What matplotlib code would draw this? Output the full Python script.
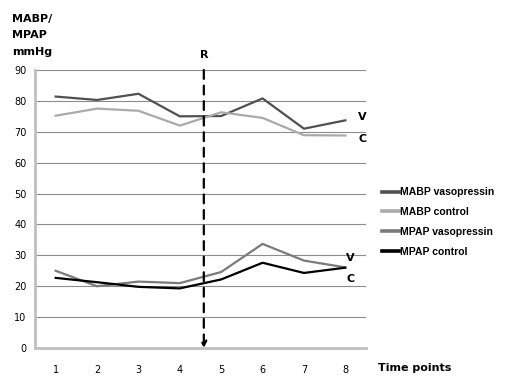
import numpy as np
import matplotlib
matplotlib.use('Agg')
import matplotlib.pyplot as plt

# data
time_points = [1, 2, 3, 4, 5, 6, 7, 8]
mabp_vaso = [81.4, 80.3, 82.3, 75.0, 75.1, 80.8, 71.0, 73.7]
mabp_ctrl = [75.2, 77.5, 76.8, 72.0, 76.3, 74.5, 68.9, 68.8]
mpap_vaso = [25.0, 20.0, 21.5, 21.0, 24.6, 33.7, 28.3, 26.1]
mpap_ctrl = [22.7, 21.3, 19.8, 19.3, 22.2, 27.6, 24.3, 26.0]
r_time = 4.58   # time of the R marker

plt.rcParams['font.family'] = ['DejaVu Sans']

fig = plt.figure(figsize=(5.1, 3.88), dpi=100)
ax = fig.add_axes([35/510, 40/388, 331/510, 278/388])

ax.plot(time_points, mabp_vaso, color='#505050', lw=1.6, label='MABP vasopressin')
ax.plot(time_points, mabp_ctrl, color='#aaaaaa', lw=1.6, label='MABP control')
ax.plot(time_points, mpap_vaso, color='#7a7a7a', lw=1.6, label='MPAP vasopressin')
ax.plot(time_points, mpap_ctrl, color='#000000', lw=1.6, label='MPAP control')

ax.set_xlim(0.5, 8.5)
ax.set_ylim(0, 90)
ax.set_yticks(np.arange(0, 91, 10))
ax.set_xticks(time_points)
ax.yaxis.grid(True, color='#8c8c8c', lw=0.8)
ax.set_axisbelow(True)
for s in ['top', 'right']:
    ax.spines[s].set_visible(False)
ax.spines['left'].set_color('#c0c0c0')
ax.spines['left'].set_linewidth(2)
ax.spines['bottom'].set_color('#c0c0c0')
ax.spines['bottom'].set_linewidth(2)
ax.tick_params(length=0, labelsize=7, colors='#000000', pad=6)
ax.tick_params(axis='x', pad=12)

# R marker: dashed arrow down to the axis
ax.annotate('', xy=(r_time, 0), xytext=(r_time, 90),
            arrowprops=dict(arrowstyle='->', ls=(0, (4, 3)), lw=1.6, color='#000000',
                            mutation_scale=9, shrinkA=0, shrinkB=0),
            annotation_clip=False)
ax.text(r_time, 95, 'R', ha='center', va='center', fontsize=8, fontweight='bold')

# V / C labels at line ends
ax.text(8.42, 74.7, 'V', fontsize=8, fontweight='bold', va='center', ha='center')
ax.text(8.42, 67.8, 'C', fontsize=8, fontweight='bold', va='center', ha='center')
ax.text(8.12, 29.2, 'V', fontsize=8, fontweight='bold', va='center', ha='center')
ax.text(8.12, 22.3, 'C', fontsize=8, fontweight='bold', va='center', ha='center')

fig.text(12/510, 1 - 14/388, 'MABP/\nMPAP\nmmHg', fontsize=8, fontweight='bold',
         va='top', ha='left', linespacing=1.8)
fig.text(378/510, 1 - 368/388, 'Time points', fontsize=8, fontweight='bold',
         va='center', ha='left')

leg = ax.legend(loc='center left', bbox_to_anchor=(338/331, (348-222)/278), frameon=False,
                handlelength=1.6, handletextpad=0.05, labelspacing=0.95,
                prop={'family': 'Liberation Sans', 'weight': 'bold', 'size': 7.5})
for h in leg.get_lines():
    h.set_linewidth(2.6)

fig.savefig('out.png', dpi=100)
